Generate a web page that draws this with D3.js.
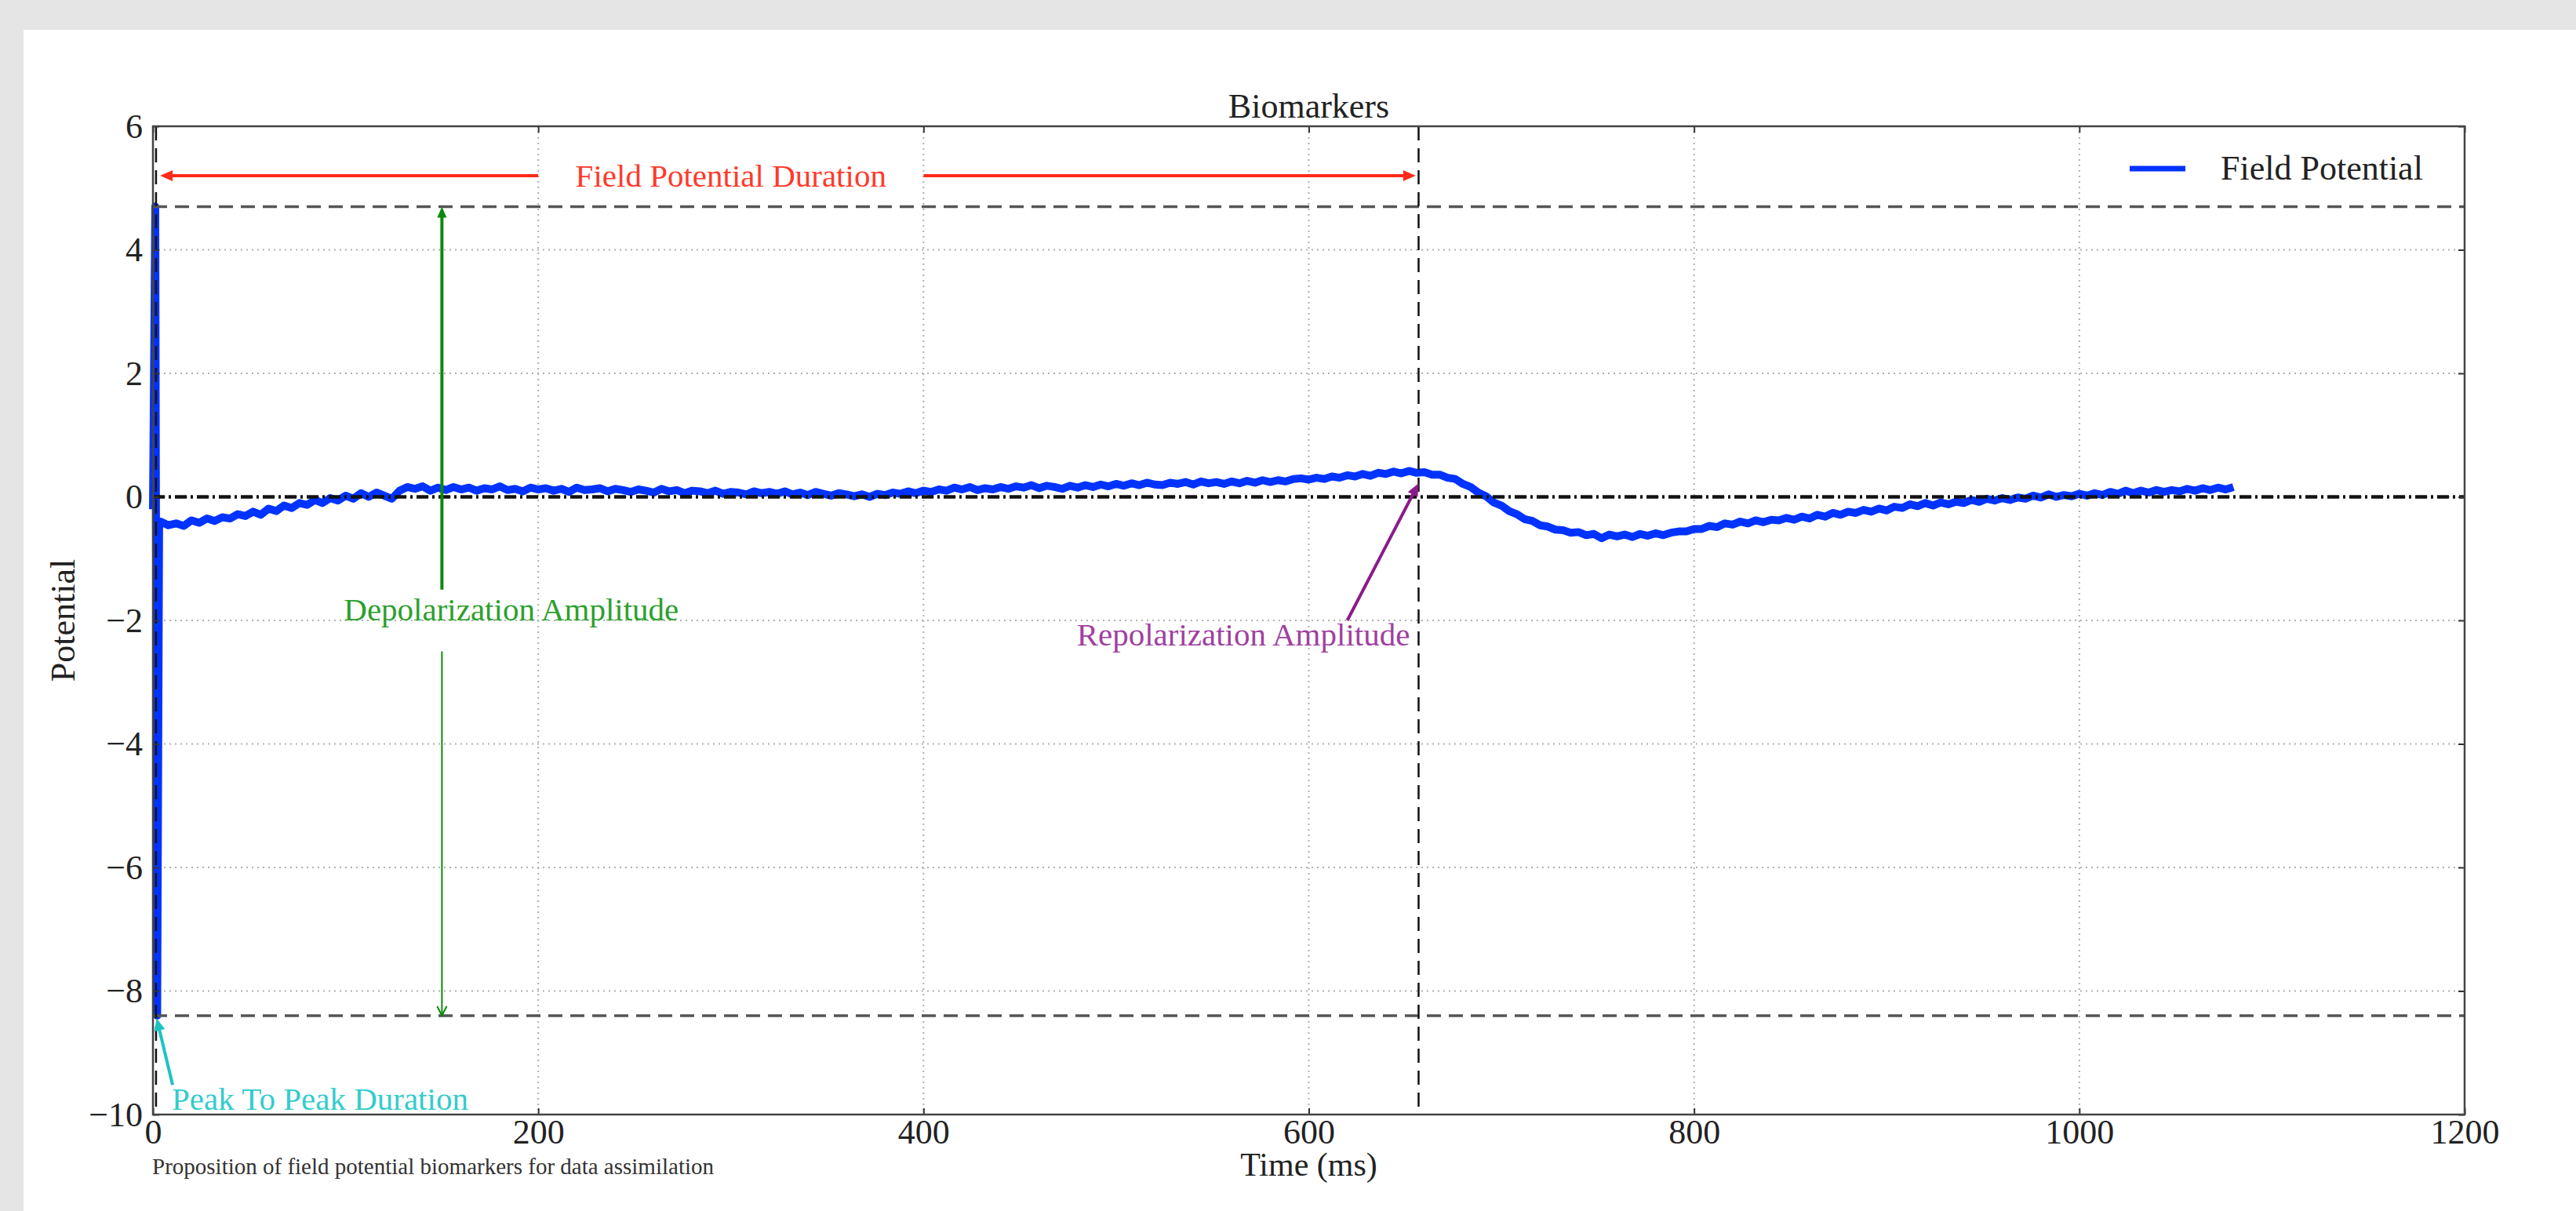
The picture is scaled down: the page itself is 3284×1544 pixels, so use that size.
<!DOCTYPE html>
<html><head><meta charset="utf-8">
<script src="https://cdn.jsdelivr.net/npm/d3@7"></script>
<style>body{margin:0;background:#e5e5e5;} svg{display:block;}</style>
</head><body>
<svg id="c" width="3284" height="1544"></svg>
<script>
// ---------------- data ----------------
const xTicks = [0, 200, 400, 600, 800, 1000, 1200];
const yTicks = [-10, -8, -6, -4, -2, 0, 2, 4, 6];
const xDomain = [0, 1200];
const yDomain = [-10, 6];

// spike (ms, potential)
const spikeTime  = [0.0, 1.2, 2.2, 3.2];
const spikeValue = [-0.2, 4.7, -8.4, -0.5];

// sampled trace after the spike: starts at 4 ms, one sample every 4 ms
const traceStart = 4, traceStep = 4;
const traceValue = [
 -0.40,-0.46,-0.43,-0.47,-0.38,-0.42,-0.35,-0.39,-0.33,-0.35,
 -0.28,-0.31,-0.24,-0.29,-0.19,-0.23,-0.14,-0.18,-0.10,-0.13,
 -0.05,-0.10,-0.02,-0.06, 0.02,-0.03, 0.06, 0.00, 0.07, 0.02,
 -0.03, 0.10, 0.16, 0.13, 0.17, 0.10, 0.15, 0.11, 0.16, 0.12,
  0.15, 0.10, 0.14, 0.12, 0.17, 0.11, 0.13, 0.09, 0.15, 0.12,
  0.14, 0.10, 0.13, 0.08, 0.15, 0.11, 0.12, 0.14, 0.09, 0.13,
  0.11, 0.08, 0.12, 0.10, 0.07, 0.13, 0.09, 0.11, 0.06, 0.10,
  0.09, 0.06, 0.10, 0.05, 0.08, 0.07, 0.04, 0.09, 0.06, 0.08,
  0.05, 0.09, 0.04, 0.07, 0.03, 0.08, 0.05, 0.02, 0.06, 0.04,
  0.01, 0.04, 0.00, 0.05, 0.03, 0.07, 0.05, 0.09, 0.06, 0.10,
  0.08, 0.12, 0.10, 0.15, 0.12, 0.16, 0.11, 0.14, 0.12, 0.16,
  0.13, 0.17, 0.15, 0.19, 0.14, 0.18, 0.16, 0.13, 0.18, 0.15,
  0.19, 0.16, 0.20, 0.17, 0.21, 0.18, 0.22, 0.19, 0.23, 0.20,
  0.19, 0.23, 0.21, 0.24, 0.20, 0.25, 0.22, 0.24, 0.21, 0.25,
  0.22, 0.26, 0.23, 0.27, 0.24, 0.27, 0.25, 0.29, 0.30, 0.28,
  0.31, 0.29, 0.33, 0.31, 0.35, 0.33, 0.37, 0.34, 0.39, 0.37,
  0.41, 0.38, 0.42, 0.39, 0.40, 0.36, 0.36, 0.31, 0.29, 0.21,
  0.16, 0.07, 0.01,-0.09,-0.14,-0.23,-0.28,-0.36,-0.39,-0.46,
 -0.48,-0.53,-0.54,-0.58,-0.57,-0.62,-0.60,-0.67,-0.61,-0.64,
 -0.61,-0.65,-0.60,-0.63,-0.59,-0.62,-0.58,-0.56,-0.56,-0.52,
 -0.52,-0.47,-0.49,-0.43,-0.45,-0.40,-0.43,-0.38,-0.41,-0.37,
 -0.38,-0.34,-0.37,-0.32,-0.35,-0.29,-0.32,-0.26,-0.29,-0.24,
 -0.26,-0.21,-0.24,-0.19,-0.22,-0.16,-0.18,-0.12,-0.15,-0.10,
 -0.14,-0.09,-0.12,-0.08,-0.10,-0.05,-0.08,-0.03,-0.06,-0.02,
 -0.05,-0.01,-0.03, 0.02,-0.01, 0.04, 0.00, 0.03, 0.01, 0.05,
  0.02, 0.06, 0.03, 0.08, 0.05, 0.10, 0.06, 0.10, 0.07, 0.11,
  0.08, 0.11, 0.09, 0.13, 0.10, 0.14, 0.11, 0.15, 0.12, 0.16
];

// biomarker reference values
const peakMax = 4.7, peakMin = -8.4;
const depolTime = 1.6, repolTime = 657;
const durationLevel = 5.2;

const titleText = "Biomarkers";
const xLabel = "Time (ms)", yLabel = "Potential";
const legendLabel = "Field Potential";
const caption = "Proposition of field potential biomarkers for data assimilation";

// ---------------- drawing ----------------
const FONT = "'Liberation Serif','DejaVu Serif',serif";
const svg = d3.select('#c');
svg.append('rect').attr('x',30).attr('y',38).attr('width',3254).attr('height',1506).attr('fill','#fff');

const x = d3.scaleLinear().domain(xDomain).range([195, 3142]);
const y = d3.scaleLinear().domain(yDomain).range([1421, 161]);

// grid
const grid = svg.append('g');
grid.selectAll('.gx').data(xTicks.slice(1,-1)).join('line')
  .attr('x1',d=>x(d)).attr('x2',d=>x(d)).attr('y1',y(6)).attr('y2',y(-10))
  .attr('stroke','#b0b0b0').attr('stroke-width',2).attr('stroke-dasharray','2,5');
grid.selectAll('.gy').data(yTicks.slice(1,-1)).join('line')
  .attr('y1',d=>y(d)).attr('y2',d=>y(d)).attr('x1',x(0)).attr('x2',x(1200))
  .attr('stroke','#b0b0b0').attr('stroke-width',2).attr('stroke-dasharray','2,5');

// trace
const pts = spikeTime.map((t,i)=>[t, spikeValue[i]])
  .concat(traceValue.map((v,i)=>[traceStart + i*traceStep, v]));
const line = d3.line().x(d=>x(d[0])).y(d=>y(d[1]));
svg.append('path').datum(pts).attr('d',line).attr('fill','none')
  .attr('stroke','#0033ff').attr('stroke-width',10).attr('stroke-linejoin','round');

// reference lines
svg.append('line').attr('x1',x(0)).attr('x2',x(1200)).attr('y1',y(0)).attr('y2',y(0))
  .attr('stroke','#111').attr('stroke-width',4.5).attr('stroke-dasharray','15,5,3,5');
[peakMax, peakMin].forEach(v=>{
  svg.append('line').attr('x1',x(0)).attr('x2',x(1200)).attr('y1',y(v)).attr('y2',y(v))
    .attr('stroke','#555').attr('stroke-width',3.5).attr('stroke-dasharray','18,10');
});
[depolTime, repolTime].forEach(t=>{
  svg.append('line').attr('x1',x(t)).attr('x2',x(t)).attr('y1',y(6)).attr('y2',y(-10))
    .attr('stroke','#111').attr('stroke-width',2.5).attr('stroke-dasharray','18,10');
});

// arrows helper
function arrow(t1,v1,t2,v2,color,w,hl,hw,filled){
  const X1=x(t1),Y1=y(v1),X2=x(t2),Y2=y(v2);
  const dx=X2-X1, dy=Y2-Y1, L=Math.hypot(dx,dy), ux=dx/L, uy=dy/L;
  const bx=X2-ux*hl, by=Y2-uy*hl;
  svg.append('line').attr('x1',X1).attr('y1',Y1)
    .attr('x2',filled?bx+ux*2:X2).attr('y2',filled?by+uy*2:Y2)
    .attr('stroke',color).attr('stroke-width',w);
  const p=[[bx-uy*hw,by+ux*hw],[X2,Y2],[bx+uy*hw,by-ux*hw]];
  if(filled){
    svg.append('path').attr('d','M'+p.map(q=>q.join(',')).join('L')+'Z').attr('fill',color);
  } else {
    svg.append('path').attr('d','M'+p.map(q=>q.join(',')).join('L')).attr('fill','none')
      .attr('stroke',color).attr('stroke-width',w);
  }
}
function label(t,v,txt,color,size,anchor){
  return svg.append('text').attr('x',x(t)).attr('y',y(v)).text(txt)
    .attr('fill',color).attr('font-family',FONT).attr('font-size',size)
    .attr('text-anchor',anchor||'start');
}

// Field potential duration (red)
const RED='#ff2a1a';
arrow(200,durationLevel,3.7,durationLevel,RED,4,16,7,true);
arrow(400,durationLevel,655.5,durationLevel,RED,4,16,7,true);
label(300,durationLevel,'Field Potential Duration','#ff3a2a',41,'middle').attr('dy','0.33em');

// Depolarization amplitude (green)
const GREEN='#0a8a0a';
arrow(150,-1.5,150,peakMax,GREEN,4,14,6,true);
arrow(150,-2.5,150,peakMin,GREEN,2,12,6,false);
label(186,-2.0,'Depolarization Amplitude','#2ca02c',41,'middle');

// Repolarization amplitude (purple)
const PURPLE='#8b1a8b';
arrow(620,-2.0,657,0.22,PURPLE,4,16,7,true);
label(566,-2.4,'Repolarization Amplitude','#a040a0',41,'middle');

// Peak to peak duration (cyan)
const CYAN='#1cc3c3';
arrow(10.2,-9.52,1.9,-8.44,CYAN,4,16,7,true);
label(9.8,-9.92,'Peak To Peak Duration','#33cccc',41,'start');

// axes (inward ticks on all sides)
const fmt = d3.format('d');
function styleAxis(g){
  g.select('.domain').remove();
  g.selectAll('.tick line').attr('stroke','#333').attr('stroke-width',2);
  g.selectAll('text').attr('font-family',FONT).attr('font-size',44).attr('fill','#222');
}
svg.append('g').attr('transform',`translate(0,${y(-10)})`)
  .call(d3.axisBottom(x).tickValues(xTicks).tickFormat(fmt).tickSize(-8).tickPadding(6)).call(styleAxis);
svg.append('g').attr('transform',`translate(0,${y(6)})`)
  .call(d3.axisTop(x).tickValues(xTicks).tickFormat('').tickSize(-8)).call(styleAxis);
svg.append('g').attr('transform',`translate(${x(0)},0)`)
  .call(d3.axisLeft(y).tickValues(yTicks).tickFormat(fmt).tickSize(-8).tickPadding(13)).call(styleAxis);
svg.append('g').attr('transform',`translate(${x(1200)},0)`)
  .call(d3.axisRight(y).tickValues(yTicks).tickFormat('').tickSize(-8)).call(styleAxis);

// frame
svg.append('rect').attr('x',x(0)).attr('y',y(6)).attr('width',x(1200)-x(0)).attr('height',y(-10)-y(6))
  .attr('fill','none').attr('stroke','#444').attr('stroke-width',2.5);

// title & labels
svg.append('text').attr('x',(x(0)+x(1200))/2).attr('y',150).attr('text-anchor','middle')
  .attr('font-family',FONT).attr('font-size',44).attr('fill','#222').text(titleText);
svg.append('text').attr('x',(x(0)+x(1200))/2).attr('y',1499).attr('text-anchor','middle')
  .attr('font-family',FONT).attr('font-size',42).attr('fill','#222').text(xLabel);
svg.append('text').attr('transform',`translate(95,${(y(6)+y(-10))/2}) rotate(-90)`).attr('text-anchor','middle')
  .attr('font-family',FONT).attr('font-size',44).attr('fill','#222').text(yLabel);
svg.append('text').attr('x',194).attr('y',1497)
  .attr('font-family',FONT).attr('font-size',29).attr('fill','#333').text(caption);

// legend
svg.append('line').attr('x1',2715).attr('x2',2786).attr('y1',215).attr('y2',215)
  .attr('stroke','#0033ff').attr('stroke-width',7);
svg.append('text').attr('x',2831).attr('y',229)
  .attr('font-family',FONT).attr('font-size',44).attr('fill','#222').text(legendLabel);
</script>
</body></html>
